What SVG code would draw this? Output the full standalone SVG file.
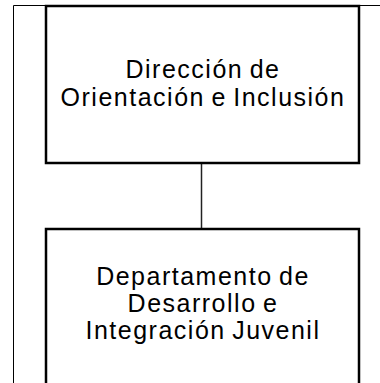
<svg xmlns="http://www.w3.org/2000/svg" width="380" height="383" viewBox="0 0 380 383">
<style>
.frame{fill:none;stroke:#000;stroke-width:1}
.box{fill:#fff;stroke:#000;stroke-width:2.5}
.lbl{font-family:"Liberation Sans",Arial,sans-serif;font-size:25px;letter-spacing:1.5px;word-spacing:-2px;fill:#000;text-anchor:middle}
.conn{stroke:#222;stroke-width:1.5;fill:none}
</style>
<rect width="380" height="383" fill="#fff"/>
<g id="frame">
<path class="frame" d="M13.5 383 V5.5 H380"/>
</g>
<g id="connectors">
<line class="conn" x1="201.5" y1="163" x2="201.5" y2="229"/>
</g>
<g id="node1">
<rect class="box" x="46" y="6" width="313" height="157"/>
<text class="lbl" x="203" y="77.5">Dirección de</text>
<text class="lbl" x="203" y="105.5">Orientación e Inclusión</text>
</g>
<g id="node2">
<rect class="box" x="46" y="229" width="313" height="170"/>
<text class="lbl" x="203" y="284.5">Departamento de</text>
<text class="lbl" x="203" y="311.5">Desarrollo e</text>
<text class="lbl" x="203" y="338.5">Integración Juvenil</text>
</g>
</svg>
